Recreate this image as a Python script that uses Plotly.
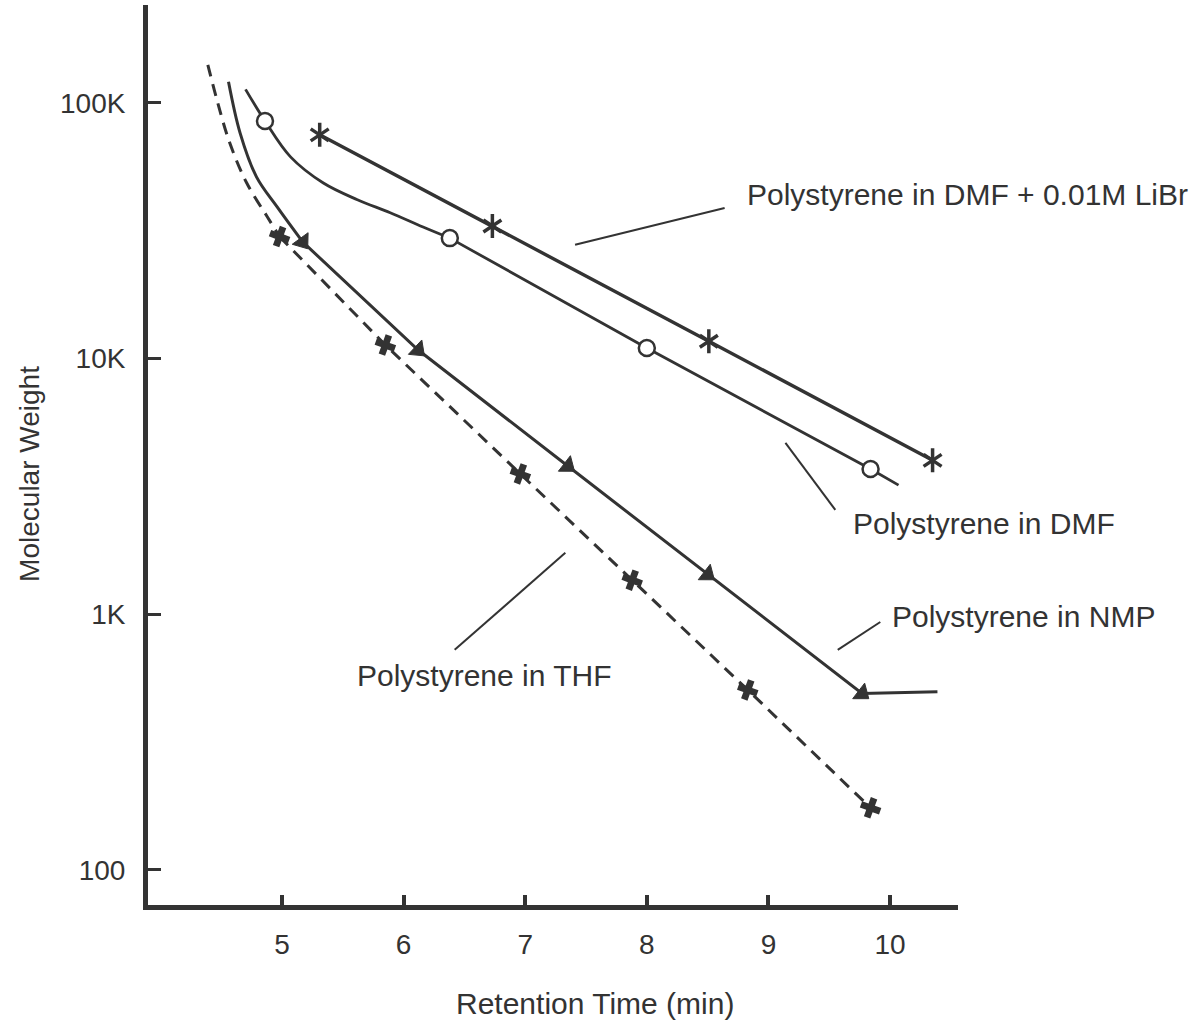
import math
import plotly.graph_objects as go

# ---------------- data ----------------
# Polystyrene in DMF + 0.01M LiBr (asterisks, straight segments)
libr_x = [5.31, 6.73, 8.51, 10.35]
libr_y = [75000, 33000, 11700, 4000]

# Polystyrene in DMF (open circles): traced curve + marker points
dmf_curve_x = [4.70, 4.86, 5.07, 5.34, 5.62, 5.89, 6.16, 6.38, 8.00, 9.84, 10.07]
dmf_curve_y = [113000, 85000, 61500, 48600, 41800, 37200, 32700, 29600, 11000, 3700, 3200]
dmf_mx = [4.86, 6.38, 8.00, 9.84]
dmf_my = [85000, 29600, 11000, 3700]

# Polystyrene in NMP (filled arrow heads)
nmp_curve_x = [4.56, 4.655, 4.79, 4.96, 5.17, 6.12, 7.35, 8.50, 9.77, 10.39]
nmp_curve_y = [121000, 76400, 51400, 39200, 28600, 10800, 3800, 1430, 490, 498]
nmp_mx = [5.17, 6.12, 7.35, 8.50, 9.77]
nmp_my = [28600, 10800, 3800, 1430, 490]

# Polystyrene in THF (dashed, thick crosses)
thf_curve_x = [4.39, 4.465, 4.57, 4.71, 4.88, 4.98, 5.85, 6.96, 7.88, 8.83, 9.84]
thf_curve_y = [141000, 102700, 69800, 48600, 35800, 30000, 11300, 3540, 1360, 506, 175]
thf_mx = [4.98, 5.85, 6.96, 7.88, 8.83, 9.84]
thf_my = [30000, 11300, 3540, 1360, 506, 175]

# Axis ticks
x_ticks = [5, 6, 7, 8, 9, 10]
y_ticks = [100, 1000, 10000, 100000]
y_tick_text = ["100", "1K", "10K", "100K"]

# Labels and their leader lines (x0, y0, x1, y1)
labels = ["Polystyrene in DMF + 0.01M LiBr", "Polystyrene in DMF",
          "Polystyrene in NMP", "Polystyrene in THF"]
label_x = [8.81, 9.68, 10.0, 5.60]
label_y = [43650, 2260, 977, 574]
leaders = [
    (7.41, 27900, 8.64, 38800),
    (9.14, 4680, 9.55, 2560),
    (9.57, 726, 9.92, 933),
    (6.42, 726, 7.33, 1740),
]

# ---------------- figure ----------------
INK = "#333333"
FONT = "Arial, Liberation Sans, sans-serif"
W, H = 1201, 1021
ML, MR, MT, MB = 148, 243, 5, 116
XR = [3.898, 10.559]
YR = [1.863, 5.383]
px_x = (W - ML - MR) / (XR[1] - XR[0])
px_dec = (H - MT - MB) / (YR[1] - YR[0])

fig = go.Figure()


def add_curve(xs, ys, first_marker_x, line_style):
    """Curved (spline) head up to the first marker, straight segments after."""
    k = xs.index(first_marker_x)
    head = dict(line_style, shape="spline", smoothing=1.0)
    fig.add_trace(go.Scatter(x=xs[:k + 1], y=ys[:k + 1], mode="lines", line=head))
    fig.add_trace(go.Scatter(x=xs[k:], y=ys[k:], mode="lines",
                             line=dict(line_style, shape="linear")))


# LiBr line + 6-arm asterisks
fig.add_trace(go.Scatter(x=libr_x, y=libr_y, mode="lines",
                         line=dict(color=INK, width=3.4)))
for sym in ["y-up-open", "y-down-open"]:
    fig.add_trace(go.Scatter(x=libr_x, y=libr_y, mode="markers",
                             marker=dict(symbol=sym, size=15, color=INK,
                                         line=dict(color=INK, width=3.5))))

# DMF
add_curve(dmf_curve_x, dmf_curve_y, dmf_mx[1], dict(color=INK, width=2.8))
fig.add_trace(go.Scatter(x=dmf_mx, y=dmf_my, mode="markers",
                         marker=dict(symbol="circle", size=16, color="white",
                                     line=dict(color=INK, width=2.5))))

# NMP
add_curve(nmp_curve_x, nmp_curve_y, nmp_mx[0], dict(color=INK, width=3))
nmp_angles = []
for mx, my in zip(nmp_mx, nmp_my):
    i = nmp_curve_x.index(mx)
    dx = (nmp_curve_x[i] - nmp_curve_x[i - 1]) * px_x
    dup = (math.log10(nmp_curve_y[i]) - math.log10(nmp_curve_y[i - 1])) * px_dec
    nmp_angles.append(math.degrees(math.atan2(dx, dup)))
fig.add_trace(go.Scatter(x=nmp_mx, y=nmp_my, mode="markers",
                         marker=dict(symbol="triangle-up", size=17, color=INK,
                                     angle=nmp_angles, line=dict(color=INK, width=1))))

# THF
add_curve(thf_curve_x, thf_curve_y, thf_mx[0],
          dict(color=INK, width=3, dash="12px,8px"))
fig.add_trace(go.Scatter(x=thf_mx, y=thf_my, mode="markers",
                         marker=dict(symbol="cross", size=17, color=INK, angle=20,
                                     line=dict(width=0))))

# leader lines
for (x0, y0, x1, y1) in leaders:
    fig.add_trace(go.Scatter(x=[x0, x1], y=[y0, y1], mode="lines",
                             line=dict(color=INK, width=2)))

for txt, lx, ly in zip(labels, label_x, label_y):
    fig.add_annotation(x=lx, y=math.log10(ly), xref="x", yref="y", text=txt,
                       showarrow=False, xanchor="left", yanchor="middle",
                       font=dict(family=FONT, size=30, color=INK))

# axis titles
fig.add_annotation(x=0.552, y=-0.109, xref="paper", yref="paper",
                   text="Retention Time (min)", showarrow=False,
                   xanchor="center", yanchor="middle",
                   font=dict(family=FONT, size=30, color=INK))
fig.add_annotation(x=-0.1457, y=0.479, xref="paper", yref="paper",
                   text="Molecular Weight", showarrow=False, textangle=-90,
                   xanchor="center", yanchor="middle",
                   font=dict(family=FONT, size=28, color=INK))

fig.update_layout(
    width=W, height=H,
    margin=dict(l=ML, r=MR, t=MT, b=MB),
    paper_bgcolor="white", plot_bgcolor="white",
    showlegend=False,
    font=dict(family=FONT, color=INK),
)
fig.update_xaxes(range=XR, tickvals=x_ticks,
                 ticks="inside", ticklen=10, tickwidth=4, tickcolor=INK,
                 showline=True, linewidth=5, linecolor=INK, mirror=False,
                 showgrid=False, zeroline=False, ticklabelstandoff=10,
                 tickfont=dict(family=FONT, size=28, color=INK))
fig.update_yaxes(type="log", range=YR, tickvals=y_ticks,
                 ticktext=y_tick_text,
                 ticks="inside", ticklen=13, tickwidth=3, tickcolor=INK,
                 showline=True, linewidth=5, linecolor=INK, mirror=False,
                 showgrid=False, zeroline=False, ticklabelstandoff=12,
                 tickfont=dict(family=FONT, size=28, color=INK))

fig.write_html("out.html")
